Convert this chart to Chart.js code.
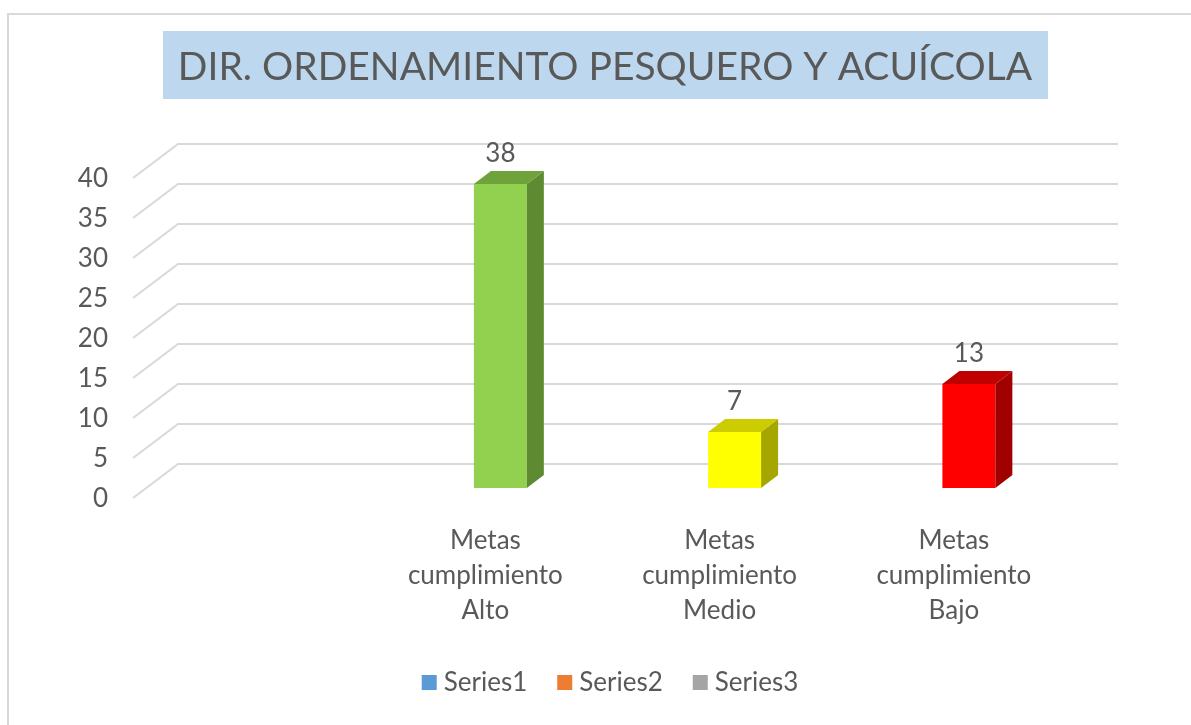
<!DOCTYPE html>
<html>
<head>
<meta charset="utf-8">
<script src="https://cdn.jsdelivr.net/npm/chart.js@4/dist/chart.umd.min.js"></script>
<style>
    body { margin: 0; background: #fff; }
    canvas { display: block; }
</style>
</head>
<body>
<canvas id="ctx" width="1191" height="725"></canvas>
<script>
// chart data
const title = 'DIR. ORDENAMIENTO PESQUERO Y ACUÍCOLA';
const categories = ['', 'Metas cumplimiento Alto', 'Metas cumplimiento Medio', 'Metas cumplimiento Bajo'];
const seriesNames = ['Series1', 'Series2', 'Series3'];
const series1 = [null, 38, null, null];
const series2 = [null, null, 7, null];
const series3 = [null, null, null, 13];
const yTicks = [0, 5, 10, 15, 20, 25, 30, 35, 40];

// colours
const legendColors = ['#5B9BD5', '#ED7D31', '#A5A5A5'];
const faceColors = ['#92D050', '#FFFF00', '#FF0000'];
const topColors = ['#6FA23B', '#CCCC00', '#C00000'];
const sideColors = ['#5E8A32', '#A6A600', '#A00000'];

const FONT = 'Lato, "Open Sans", sans-serif';
const TEXT = '#595959';
const GRID = '#D9D9D9';

// 3d offsets
const backDx = 32, backDy = -24;
const frontDx = -16, frontDy = 10;
const barDx = 17, barDy = -13;

let threeD = {
    id: 'threeD',
    beforeDraw: function (chart) {
        let c = chart.ctx;
        c.save();
        c.fillStyle = '#fff';
        c.fillRect(0, 0, chart.width, chart.height);
        // chart border
        c.strokeStyle = GRID;
        c.lineWidth = 2;
        c.strokeRect(8, 14, chart.width + 20, chart.height + 20);
        // title
        c.fillStyle = '#BDD7EE';
        c.fillRect(163, 31, 885, 68);
        c.fillStyle = TEXT;
        c.font = '39px ' + FONT;
        c.textAlign = 'center';
        c.textBaseline = 'middle';
        c.fillText(title, 605, 67);
        c.restore();
    },
    beforeDatasetsDraw: function (chart) {
        let c = chart.ctx,
            y = chart.scales.y,
            area = chart.chartArea;
        c.save();
        c.strokeStyle = GRID;
        c.lineWidth = 2;
        c.fillStyle = TEXT;
        c.font = '26px ' + FONT;
        c.textAlign = 'right';
        c.textBaseline = 'middle';
        for (let v of yTicks) {
            let py = y.getPixelForValue(v);
            c.beginPath();
            c.moveTo(area.left + frontDx, py + frontDy);
            c.lineTo(area.left + backDx - 3, py + backDy);
            c.lineTo(area.right + backDx, py + backDy);
            c.stroke();
            c.fillText(String(v), 108, py + frontDy + 1);
        }
        // category labels on the front edge
        let x = chart.scales.x;
        c.textAlign = 'center';
        categories.forEach((label, i) => {
            if (!label) return;
            let px = x.getPixelForValue(i) - 15;
            label.split(' ').forEach((line, j) => {
                c.fillText(line, px, 541 + j * 35);
            });
        });
        c.restore();
    },
    afterDatasetsDraw: function (chart) {
        let c = chart.ctx;
        c.save();
        chart.data.datasets.forEach((ds, di) => {
            let meta = chart.getDatasetMeta(di);
            meta.data.forEach((bar, i) => {
                if (ds.data[i] == null) return;
                let l = bar.x - bar.width / 2,
                    r = bar.x + bar.width / 2;
                // side
                c.fillStyle = sideColors[di];
                c.beginPath();
                c.moveTo(r, bar.y);
                c.lineTo(r + barDx, bar.y + barDy);
                c.lineTo(r + barDx, bar.base + barDy);
                c.lineTo(r, bar.base);
                c.closePath();
                c.fill();
                // top
                c.fillStyle = topColors[di];
                c.beginPath();
                c.moveTo(l, bar.y);
                c.lineTo(r, bar.y);
                c.lineTo(r + barDx, bar.y + barDy);
                c.lineTo(l + barDx, bar.y + barDy);
                c.closePath();
                c.fill();
                // value label
                c.fillStyle = TEXT;
                c.font = '26px ' + FONT;
                c.textAlign = 'center';
                c.textBaseline = 'middle';
                c.fillText(String(ds.data[i]), bar.x, bar.y - 30);
            });
        });
        c.restore();
    },
    afterDraw: function (chart) {
        // legend
        let c = chart.ctx;
        c.save();
        c.font = '26px ' + FONT;
        c.textBaseline = 'middle';
        c.textAlign = 'left';
        let box = 15, gap = 7, spacing = 30,
            widths = seriesNames.map(n => c.measureText(n).width),
            total = widths.reduce((a, w) => a + box + gap + w, 0) + spacing * (seriesNames.length - 1),
            px = 610 - total / 2;
        seriesNames.forEach((name, i) => {
            c.fillStyle = legendColors[i];
            c.fillRect(px, 675, box, box);
            c.fillStyle = TEXT;
            c.fillText(name, px + box + gap, 683);
            px += box + gap + widths[i] + spacing;
        });
        c.restore();
    }
};

new Chart(document.getElementById('ctx'), {
    type: 'bar',
    data: {
        labels: categories,
        datasets: [series1, series2, series3].map((data, i) => ({
            label: seriesNames[i],
            data: data,
            backgroundColor: faceColors[i],
            grouped: false,
            barPercentage: 0.226,
            categoryPercentage: 1
        }))
    },
    options: {
        responsive: false,
        animation: false,
        layout: {padding: {left: 149, right: 105, top: 168, bottom: 237}},
        scales: {
            x: {display: false},
            y: {display: false, min: 0, max: 40}
        },
        plugins: {
            legend: {display: false},
            tooltip: {enabled: false}
        }
    },
    plugins: [threeD]
});
</script>
</body>
</html>
